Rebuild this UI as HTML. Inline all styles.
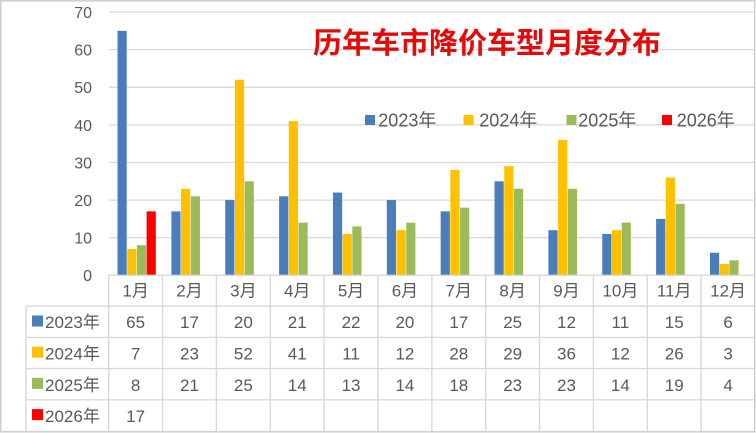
<!DOCTYPE html>
<html><head><meta charset="utf-8"><style>
html,body{margin:0;padding:0;background:#fff;}
svg{display:block;}
text{font-family:"Liberation Sans","Noto Sans CJK SC",sans-serif;fill:#595959;}
</style></head><body>
<svg width="756" height="433" viewBox="0 0 756 433" xmlns="http://www.w3.org/2000/svg">
<rect x="0" y="0" width="756" height="433" fill="#fff"/>
<!-- gridlines -->
<g stroke="#d9d9d9" stroke-width="1.3">
<line x1="109" y1="12" x2="754" y2="12"/>
<line x1="109" y1="49.6" x2="754" y2="49.6"/>
<line x1="109" y1="87.3" x2="754" y2="87.3"/>
<line x1="109" y1="124.9" x2="754" y2="124.9"/>
<line x1="109" y1="162.5" x2="754" y2="162.5"/>
<line x1="109" y1="200.1" x2="754" y2="200.1"/>
<line x1="109" y1="237.7" x2="754" y2="237.7"/>
</g>
<!-- y labels -->
<g font-size="16" text-anchor="end">
<text x="92" y="18">70</text>
<text x="92" y="55.6">60</text>
<text x="92" y="93.2">50</text>
<text x="92" y="130.8">40</text>
<text x="92" y="168.4">30</text>
<text x="92" y="206">20</text>
<text x="92" y="243.6">10</text>
<text x="92" y="281.2">0</text>
</g>
<!-- bars -->
<g transform="matrix(1,0,0,-3.761,0,275.3)">
<g fill="#4a7ebb">
<rect x="117.5" y="0" width="9.2" height="65"/>
<rect x="171.36" y="0" width="9.2" height="17"/>
<rect x="225.22" y="0" width="9.2" height="20"/>
<rect x="279.08" y="0" width="9.2" height="21"/>
<rect x="332.94" y="0" width="9.2" height="22"/>
<rect x="386.8" y="0" width="9.2" height="20"/>
<rect x="440.66" y="0" width="9.2" height="17"/>
<rect x="494.52" y="0" width="9.2" height="25"/>
<rect x="548.38" y="0" width="9.2" height="12"/>
<rect x="602.24" y="0" width="9.2" height="11"/>
<rect x="656.1" y="0" width="9.2" height="15"/>
<rect x="709.96" y="0" width="9.2" height="6"/>
</g>
<g fill="#ffc000">
<rect x="127.2" y="0" width="9.2" height="7"/>
<rect x="181.06" y="0" width="9.2" height="23"/>
<rect x="234.92" y="0" width="9.2" height="52"/>
<rect x="288.78" y="0" width="9.2" height="41"/>
<rect x="342.64" y="0" width="9.2" height="11"/>
<rect x="396.5" y="0" width="9.2" height="12"/>
<rect x="450.36" y="0" width="9.2" height="28"/>
<rect x="504.22" y="0" width="9.2" height="29"/>
<rect x="558.08" y="0" width="9.2" height="36"/>
<rect x="611.94" y="0" width="9.2" height="12"/>
<rect x="665.8" y="0" width="9.2" height="26"/>
<rect x="719.66" y="0" width="9.2" height="3"/>
</g>
<g fill="#9bbb59">
<rect x="136.9" y="0" width="9.2" height="8"/>
<rect x="190.76" y="0" width="9.2" height="21"/>
<rect x="244.62" y="0" width="9.2" height="25"/>
<rect x="298.48" y="0" width="9.2" height="14"/>
<rect x="352.34" y="0" width="9.2" height="13"/>
<rect x="406.2" y="0" width="9.2" height="14"/>
<rect x="460.06" y="0" width="9.2" height="18"/>
<rect x="513.92" y="0" width="9.2" height="23"/>
<rect x="567.78" y="0" width="9.2" height="23"/>
<rect x="621.64" y="0" width="9.2" height="14"/>
<rect x="675.5" y="0" width="9.2" height="19"/>
<rect x="729.36" y="0" width="9.2" height="4"/>
</g>
<g fill="#ff0000">
<rect x="146.6" y="0" width="9.2" height="17"/>
</g>
</g>
<!-- title -->
<text x="313" y="41" font-size="29" font-weight="bold" dominant-baseline="central" style="fill:#e50a0a;font-family:'Noto Sans CJK SC','WenQuanYi Zen Hei',sans-serif">历年车市降价车型月度分布</text>
<!-- legend -->
<rect x="365" y="115" width="10" height="10" fill="#4a7ebb"/>
<text x="378.3" y="126.5" font-size="18">2023年</text>
<rect x="463.5" y="115" width="10" height="10" fill="#ffc000"/>
<text x="479.3" y="126.5" font-size="18">2024年</text>
<rect x="566.5" y="115" width="10" height="10" fill="#9bbb59"/>
<text x="578.3" y="126.5" font-size="18">2025年</text>
<rect x="662" y="115" width="10" height="10" fill="#ff0000"/>
<text x="676.7" y="126.5" font-size="18">2026年</text>
<!-- table lines -->
<g stroke="#d9d9d9" stroke-width="1.4" fill="none">
<line x1="108.7" y1="275.3" x2="755" y2="275.3"/>
<line x1="26" y1="306.2" x2="755" y2="306.2"/>
<line x1="26" y1="337.4" x2="755" y2="337.4"/>
<line x1="26" y1="368.6" x2="755" y2="368.6"/>
<line x1="26" y1="399.8" x2="755" y2="399.8"/>
<line x1="26" y1="306.2" x2="26" y2="431.5"/>
<line x1="108.7" y1="275.3" x2="108.7" y2="431.5"/>
<line x1="162.56" y1="275.3" x2="162.56" y2="431.5"/>
<line x1="216.42" y1="275.3" x2="216.42" y2="431.5"/>
<line x1="270.28" y1="275.3" x2="270.28" y2="431.5"/>
<line x1="324.14" y1="275.3" x2="324.14" y2="431.5"/>
<line x1="378" y1="275.3" x2="378" y2="431.5"/>
<line x1="431.86" y1="275.3" x2="431.86" y2="431.5"/>
<line x1="485.72" y1="275.3" x2="485.72" y2="431.5"/>
<line x1="539.58" y1="275.3" x2="539.58" y2="431.5"/>
<line x1="593.44" y1="275.3" x2="593.44" y2="431.5"/>
<line x1="647.3" y1="275.3" x2="647.3" y2="431.5"/>
<line x1="701.16" y1="275.3" x2="701.16" y2="431.5"/>
</g>
<!-- outer border -->
<rect x="0.8" y="0.8" width="754" height="431" fill="none" stroke="#d0d0d0" stroke-width="1.6"/>
<!-- category labels -->
<g font-size="17" text-anchor="middle">
<text x="135.63" y="296.5">1月</text>
<text x="189.49" y="296.5">2月</text>
<text x="243.35" y="296.5">3月</text>
<text x="297.21" y="296.5">4月</text>
<text x="351.07" y="296.5">5月</text>
<text x="404.93" y="296.5">6月</text>
<text x="458.79" y="296.5">7月</text>
<text x="512.65" y="296.5">8月</text>
<text x="566.51" y="296.5">9月</text>
<text x="620.37" y="296.5">10月</text>
<text x="674.23" y="296.5">11月</text>
<text x="728.09" y="296.5">12月</text>
</g>
<!-- row headers -->
<rect x="32" y="315.5" width="11" height="11" fill="#4a7ebb"/>
<text x="45" y="328" font-size="17">2023年</text>
<rect x="32" y="346.7" width="11" height="11" fill="#ffc000"/>
<text x="45" y="359.5" font-size="17">2024年</text>
<rect x="32" y="377.9" width="11" height="11" fill="#9bbb59"/>
<text x="45" y="390.8" font-size="17">2025年</text>
<rect x="32" y="409.1" width="11" height="11" fill="#ff0000"/>
<text x="45" y="422" font-size="17">2026年</text>
<!-- values -->
<g font-size="17" text-anchor="middle">
<text x="135.63" y="328">65</text>
<text x="189.49" y="328">17</text>
<text x="243.35" y="328">20</text>
<text x="297.21" y="328">21</text>
<text x="351.07" y="328">22</text>
<text x="404.93" y="328">20</text>
<text x="458.79" y="328">17</text>
<text x="512.65" y="328">25</text>
<text x="566.51" y="328">12</text>
<text x="620.37" y="328">11</text>
<text x="674.23" y="328">15</text>
<text x="728.09" y="328">6</text>

<text x="135.63" y="359.5">7</text>
<text x="189.49" y="359.5">23</text>
<text x="243.35" y="359.5">52</text>
<text x="297.21" y="359.5">41</text>
<text x="351.07" y="359.5">11</text>
<text x="404.93" y="359.5">12</text>
<text x="458.79" y="359.5">28</text>
<text x="512.65" y="359.5">29</text>
<text x="566.51" y="359.5">36</text>
<text x="620.37" y="359.5">12</text>
<text x="674.23" y="359.5">26</text>
<text x="728.09" y="359.5">3</text>

<text x="135.63" y="390.8">8</text>
<text x="189.49" y="390.8">21</text>
<text x="243.35" y="390.8">25</text>
<text x="297.21" y="390.8">14</text>
<text x="351.07" y="390.8">13</text>
<text x="404.93" y="390.8">14</text>
<text x="458.79" y="390.8">18</text>
<text x="512.65" y="390.8">23</text>
<text x="566.51" y="390.8">23</text>
<text x="620.37" y="390.8">14</text>
<text x="674.23" y="390.8">19</text>
<text x="728.09" y="390.8">4</text>

<text x="135.63" y="422">17</text>
</g>
</svg>
</body></html>
